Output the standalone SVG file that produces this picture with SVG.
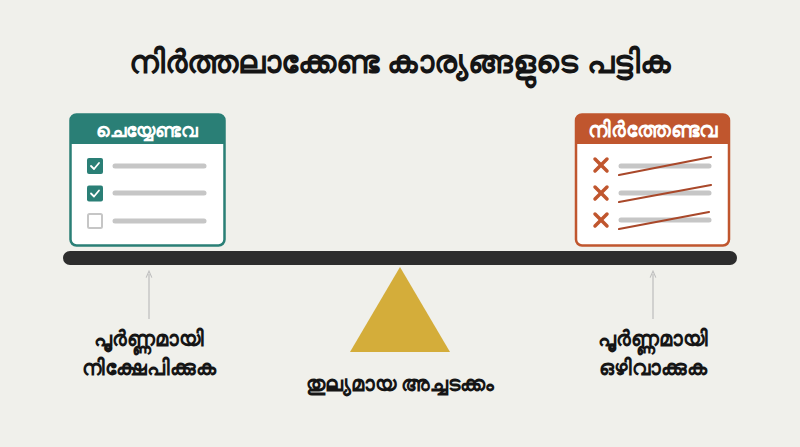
<svg xmlns="http://www.w3.org/2000/svg" width="800" height="447" viewBox="0 0 800 447">
<style>
.t{font-family:"Noto Sans","DejaVu Sans",sans-serif;font-weight:900;text-anchor:middle;fill:#151515}
.h{font-family:"Noto Sans","DejaVu Sans",sans-serif;font-weight:900;text-anchor:middle;fill:#fff}
.gl{stroke:#c6c6c6;stroke-width:5;stroke-linecap:round}
.st{stroke:#a9482a;stroke-width:2.2;stroke-linecap:round}
.x{stroke:#c0562e;stroke-width:3.5;stroke-linecap:round}
.ar{stroke:#bdbdbd;stroke-width:1.2;fill:none}
</style>
<defs>
<marker id="ah" viewBox="0 0 10 10" refX="5" refY="5" markerWidth="6" markerHeight="6" orient="auto">
<path d="M0,1 L9,5 L0,9" fill="none" stroke="#bdbdbd" stroke-width="1.5"/>
</marker>
</defs>
<rect width="800" height="447" fill="#f0f0eb"/>
<text class="t" x="400" y="73" font-size="32">നിർത്തലാക്കേണ്ട കാര്യങ്ങളുടെ പട്ടിക</text>

<g id="todo">
<rect x="70.5" y="114.5" width="154" height="131" rx="6" fill="#fff" stroke="#2a7f76" stroke-width="2.5"/>
<path d="M70.5,144 V120.5 a6,6 0 0 1 6,-6 H218.5 a6,6 0 0 1 6,6 V144 Z" fill="#2a7f76"/>
<text class="h" x="147" y="137" font-size="19">ചെയ്യേണ്ടവ</text>
<rect x="87" y="158" width="16" height="16" rx="2" fill="#2a7f76"/>
<path d="M91,166 l3,3 l5,-6" fill="none" stroke="#fff" stroke-width="1.8" stroke-linecap="round" stroke-linejoin="round"/>
<rect x="87" y="185.5" width="16" height="16" rx="2" fill="#2a7f76"/>
<path d="M91,193.5 l3,3 l5,-6" fill="none" stroke="#fff" stroke-width="1.8" stroke-linecap="round" stroke-linejoin="round"/>
<rect x="88" y="214" width="14" height="14" rx="1.5" fill="#fff" stroke="#c6c6c6" stroke-width="2"/>
<line class="gl" x1="115" y1="166" x2="204" y2="166"/>
<line class="gl" x1="115" y1="193" x2="204" y2="193"/>
<line class="gl" x1="115" y1="221" x2="204" y2="221"/>
</g>

<g id="notdo">
<rect x="576" y="114.5" width="153" height="131" rx="6" fill="#fff" stroke="#c0562e" stroke-width="2.5"/>
<path d="M576,144 V120.5 a6,6 0 0 1 6,-6 H723 a6,6 0 0 1 6,6 V144 Z" fill="#c0562e"/>
<text class="h" x="652.5" y="137" font-size="20.5">നിർത്തേണ്ടവ</text>
<line class="x" x1="595" y1="159" x2="607" y2="171"/><line class="x" x1="607" y1="159" x2="595" y2="171"/>
<line class="x" x1="595" y1="187" x2="607" y2="199"/><line class="x" x1="607" y1="187" x2="595" y2="199"/>
<line class="x" x1="595" y1="214" x2="607" y2="226"/><line class="x" x1="607" y1="214" x2="595" y2="226"/>
<line class="gl" x1="621" y1="166" x2="709" y2="166"/>
<line class="gl" x1="621" y1="193" x2="709" y2="193"/>
<line class="gl" x1="621" y1="220" x2="709" y2="220"/>
<line class="st" x1="619" y1="175" x2="711" y2="157"/>
<line class="st" x1="619" y1="202" x2="711" y2="185"/>
<line class="st" x1="619" y1="229" x2="709" y2="212"/>
</g>

<g id="beam">
<rect x="63" y="251" width="674" height="14" rx="7" fill="#2d2d2d"/>
</g>
<g id="fulcrum">
<polygon points="400,267 350,352 450,352" fill="#d4ad3a"/>
</g>

<g id="connectors">
<line class="ar" x1="149" y1="319" x2="149" y2="274" marker-end="url(#ah)"/>
<line class="ar" x1="653" y1="319" x2="653" y2="274" marker-end="url(#ah)"/>
</g>

<g id="left-label">
<text class="t" x="149" y="346" font-size="21">പൂർണ്ണമായി</text>
<text class="t" x="149" y="375" font-size="21">നിക്ഷേപിക്കുക</text>
</g>
<g id="right-label">
<text class="t" x="653" y="346" font-size="21">പൂർണ്ണമായി</text>
<text class="t" x="653" y="375" font-size="21">ഒഴിവാക്കുക</text>
</g>
<g id="center-label">
<text class="t" x="400" y="391" font-size="21">തുല്യമായ അച്ചടക്കം</text>
</g>
</svg>
